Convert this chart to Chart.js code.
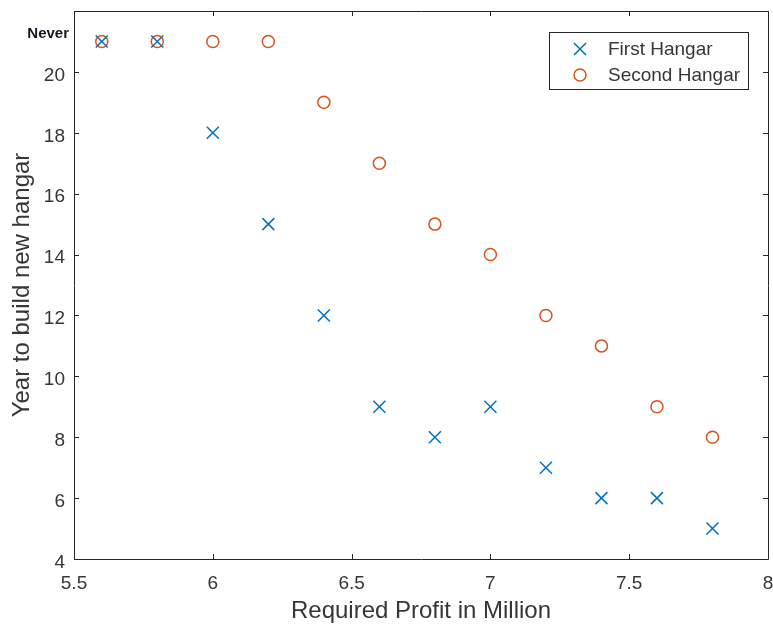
<!DOCTYPE html>
<html>
<head>
<meta charset="utf-8">
<script src="https://cdn.jsdelivr.net/npm/chart.js@4/dist/chart.umd.min.js"></script>
<style>
  html, body { margin: 0; padding: 0; background: #fff; }
  #wrap { width: 773px; height: 628px; }
</style>
</head>
<body>
<div id="wrap"><canvas id="myChart" width="773" height="628"></canvas></div>
<script>
// data (21 = "Never")
var profits = [5.6, 5.8, 6.0, 6.2, 6.4, 6.6, 6.8, 7.0, 7.2, 7.4, 7.6, 7.8];
var firstHangar = [21, 21, 18, 15, 12, 9, 8, 9, 7, 6, 6, 5];
var secondHangar = [21, 21, 21, 21, 19, 17, 15, 14, 12, 11, 9, 8];
var xTicks = [5.5, 6, 6.5, 7, 7.5, 8];
var yTicks = [4, 6, 8, 10, 12, 14, 16, 18, 20];
var neverValue = 21;
var neverLabel = 'Never';

var blue = '#0072BD';
var orange = '#D95319';
var textColor = '#363636';
var fontFamily = '"Liberation Sans", Arial, Helvetica, sans-serif';

function toPoints(xs, ys) {
    var pts = [];
    for (var i = 0; i < xs.length; i++) pts.push({x: xs[i], y: ys[i]});
    return pts;
}

// box, inward ticks, "Never" label and legend (matlab look)
var matlabAxes = {
    id: 'matlabAxes',
    afterDraw: function(chart) {
        var c = chart.ctx, a = chart.chartArea;
        var xs = chart.scales.x, ys = chart.scales.y;
        var len = 5;
        c.save();
        c.strokeStyle = '#262626';
        c.lineWidth = 1;
        c.beginPath();
        c.rect(Math.round(a.left) + 0.5, Math.round(a.top) + 0.5, Math.round(a.right - a.left), Math.round(a.bottom - a.top));
        xTicks.forEach(function(v) {
            var px = Math.round(xs.getPixelForValue(v)) + 0.5;
            c.moveTo(px, a.bottom); c.lineTo(px, a.bottom - len);
            c.moveTo(px, a.top); c.lineTo(px, a.top + len);
        });
        yTicks.forEach(function(v) {
            var py = Math.round(ys.getPixelForValue(v)) + 0.5;
            c.moveTo(a.left, py); c.lineTo(a.left + len, py);
            c.moveTo(a.right, py); c.lineTo(a.right - len, py);
        });
        c.stroke();

        // "Never" label
        c.fillStyle = '#141428';
        c.font = 'bold 15px ' + fontFamily;
        c.textAlign = 'right';
        c.textBaseline = 'middle';
        c.fillText(neverLabel, a.left - 5, ys.getPixelForValue(neverValue) - 8);

        // legend box
        var lx = 549, ly = 32, lw = 199, lh = 57;
        c.fillStyle = '#fff';
        c.fillRect(lx, ly, lw, lh);
        c.strokeStyle = '#262626';
        c.strokeRect(lx + 0.5, ly + 0.5, lw, lh);
        c.font = '19px ' + fontFamily;
        c.textAlign = 'left';
        chart.data.datasets.forEach(function(ds, i) {
            var my = ly + 17 + i * 26;
            c.strokeStyle = ds.borderColor;
            c.lineWidth = 1.5;
            c.beginPath();
            if (ds.pointStyle === 'crossRot') {
                c.moveTo(574, my - 6); c.lineTo(586, my + 6);
                c.moveTo(586, my - 6); c.lineTo(574, my + 6);
            } else {
                c.arc(580, my, 6, 0, Math.PI * 2);
            }
            c.stroke();
            c.fillStyle = textColor;
            c.fillText(ds.label, 608, my + 1);
        });
        c.restore();
    }
};

var ctx = document.getElementById('myChart').getContext('2d');
var myChart = new Chart(ctx, {
    type: 'scatter',
    data: {
        datasets: [{
            label: 'First Hangar',
            data: toPoints(profits, firstHangar),
            pointStyle: 'crossRot',
            pointRadius: 8.5,
            pointHoverRadius: 8.5,
            borderColor: blue,
            backgroundColor: blue,
            pointBorderWidth: 1.5
        }, {
            label: 'Second Hangar',
            data: toPoints(profits, secondHangar),
            pointStyle: 'circle',
            pointRadius: 6,
            pointHoverRadius: 6,
            borderColor: orange,
            backgroundColor: 'rgba(0,0,0,0)',
            pointBorderWidth: 1.5
        }]
    },
    options: {
        responsive: false,
        animation: false,
        layout: { autoPadding: false, padding: { top: 11, right: 5, left: 0, bottom: 0 } },
        plugins: { legend: { display: false }, tooltip: { enabled: false } },
        scales: {
            x: {
                type: 'linear', min: 5.5, max: 8,
                afterBuildTicks: function(s) { s.ticks = xTicks.map(function(v) { return {value: v}; }); },
                afterFit: function(s) { s.height = 69; s.paddingLeft = 0; s.paddingRight = 0; },
                grid: { display: false, drawTicks: false },
                border: { display: false },
                ticks: { color: textColor, font: { family: fontFamily, size: 19 }, padding: 13, maxRotation: 0,
                    callback: function(v) { return String(v); } },
                title: { display: true, text: 'Required Profit in Million', color: textColor, font: { family: fontFamily, size: 24 }, padding: { top: 0, bottom: 2 } }
            },
            y: {
                type: 'linear', min: 4, max: 22,
                afterBuildTicks: function(s) { s.ticks = yTicks.map(function(v) { return {value: v}; }); },
                afterFit: function(s) { s.width = 74; s.paddingTop = 0; s.paddingBottom = 0; },
                grid: { display: false, drawTicks: false },
                border: { display: false },
                ticks: { color: textColor, font: { family: fontFamily, size: 19 }, padding: 9, labelOffset: 3.5,
                    callback: function(v) { return String(v); } },
                title: { display: true, text: 'Year to build new hangar', color: textColor, font: { family: fontFamily, size: 24 }, padding: { top: 8, bottom: 0 } }
            }
        }
    },
    plugins: [matlabAxes]
});
</script>
</body>
</html>
